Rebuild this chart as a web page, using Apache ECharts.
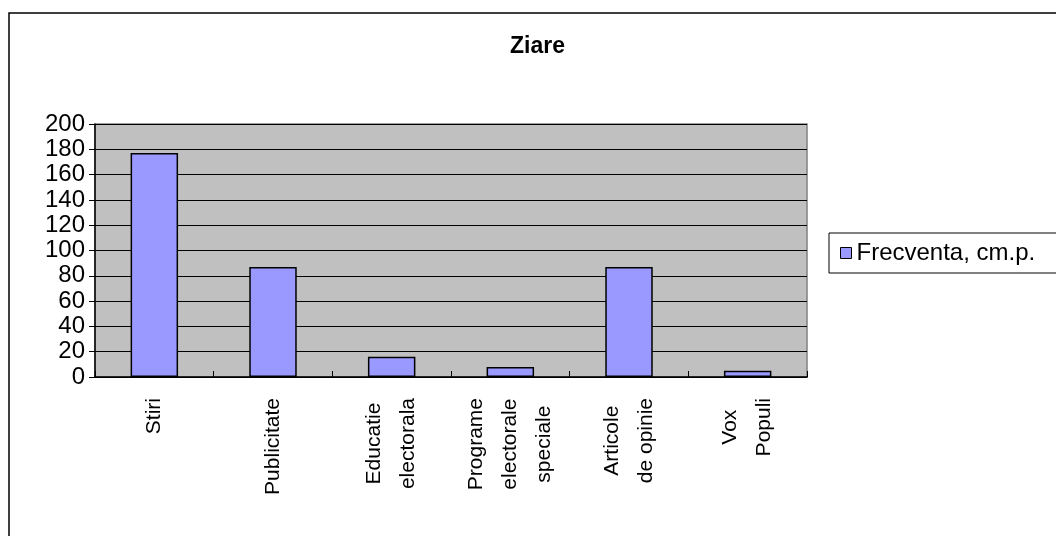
<!DOCTYPE html>
<html>
<head>
<meta charset="utf-8">
<script src="https://cdn.jsdelivr.net/npm/echarts@6/dist/echarts.min.js"></script>
<style>
	html,body{margin:0;padding:0;background:#fff;}
	#main{width:1056px;height:536px;}
</style>
</head>
<body>
<div id="main"></div>
<script>
var categories=["Stiri","Publicitate","Educatie\nelectorala","Programe\nelectorale\nspeciale","Articole\nde opinie","Vox\nPopuli"];
var values=[177,87,16,8,87,5];
var seriesName="Frecventa, cm.p.";
var yTicks={min:0,max:200,interval:20};

var font='"Liberation Sans", Arial, sans-serif';
var chart=echarts.init(document.getElementById('main'));
var option={
	backgroundColor:'#fff',
	animation:false,
	title:{
		text:'Ziare',
		left:510,
		top:35,
		padding:0,
		textStyle:{fontFamily:font,fontSize:23,fontWeight:'bold',color:'#000'}
	},
	legend:{
		data:[seriesName],
		left:829,
		top:233,
		orient:'vertical',
		icon:'rect',
		itemWidth:11,
		itemHeight:11,
		padding:[8,40,8,11],
		borderColor:'#000',
		borderWidth:1,
		itemStyle:{borderColor:'#000',borderWidth:1},
		textStyle:{fontFamily:font,fontSize:24,color:'#000'}
	},
	grid:{
		left:95,
		right:249,
		top:124,
		bottom:159,
		show:true,
		backgroundColor:'#c0c0c0',
		borderColor:'#808080',
		borderWidth:1.5
	},
	xAxis:[{
		type:'category',
		data:categories,
		boundaryGap:true,
		axisLine:{show:true,lineStyle:{color:'#000',width:1.5}},
		axisTick:{show:true,inside:true,length:6,lineStyle:{color:'#000'}},
		axisLabel:{
			rotate:90,
			margin:21,
			interval:0,
			color:'#000',
			fontFamily:font,
			fontSize:21,
			lineHeight:34,
			formatter:function(v){
				return v.split('\n').map(function(s){return '{c|'+s+'}';}).join('\n');
			},
			rich:{c:{align:'center',fontFamily:font,fontSize:21,lineHeight:34,color:'#000'}}
		},
		splitLine:{show:false}
	}],
	yAxis:[{
		type:'value',
		min:yTicks.min,
		max:yTicks.max,
		interval:yTicks.interval,
		axisLine:{show:true,lineStyle:{color:'#000',width:1.5}},
		axisTick:{show:true,length:6,lineStyle:{color:'#000'}},
		axisLabel:{color:'#000',fontFamily:font,fontSize:24,margin:10},
		splitLine:{show:true,lineStyle:{color:'#000',width:1}}
	}],
	series:[{
		name:seriesName,
		type:'bar',
		data:values,
		barWidth:'40%',
		itemStyle:{color:'#9999ff',borderColor:'#000',borderWidth:1.5}
	}],
	graphic:[{
		type:'rect',
		shape:{x:9,y:13,width:1100,height:600},
		style:{fill:null,stroke:'#000',lineWidth:1.5},
		silent:true,
		z:-1
	}]
};
chart.setOption(option);
</script>
</body>
</html>
